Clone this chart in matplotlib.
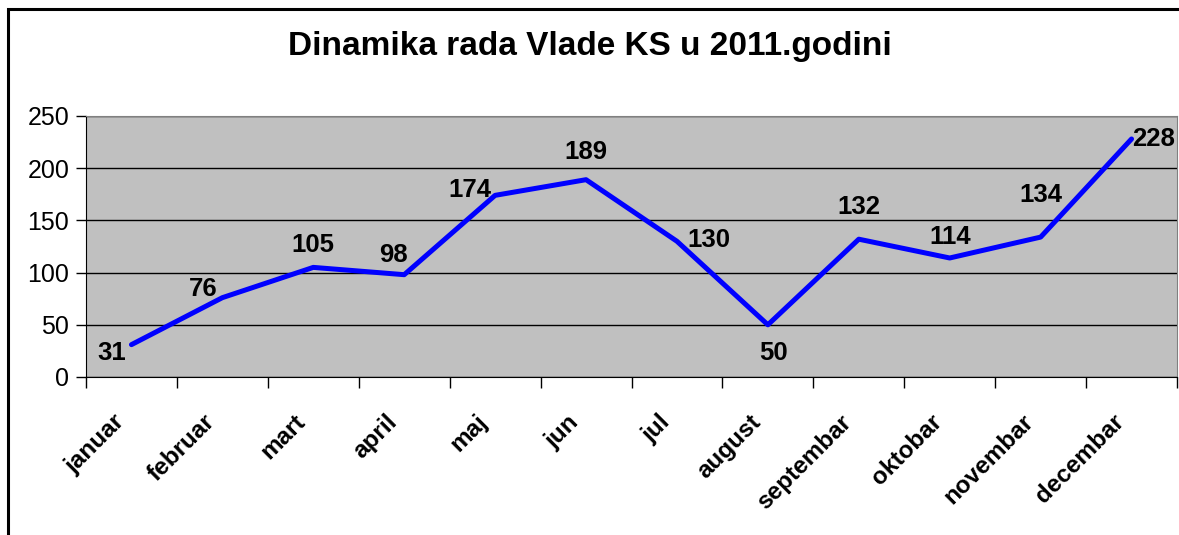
import matplotlib
matplotlib.use("Agg")
from matplotlib import pyplot as plt
from matplotlib.patches import Rectangle
from matplotlib.transforms import ScaledTranslation

plt.rcParams['font.family'] = ['Liberation Sans', 'DejaVu Sans']

months = ["januar", "februar", "mart", "april", "maj", "jun", "jul",
          "august", "septembar", "oktobar", "novembar", "decembar"]
values = [31, 76, 105, 98, 174, 189, 130, 50, 132, 114, 134, 228]
y_ticks = [0, 50, 100, 150, 200, 250]

# label offsets in points (layout only)
label_offsets = [(-14, -6), (-14, 6), (0, 16), (-8, 14), (-18, 4), (0, 20),
                 (23, 1), (4, -20), (0, 23), (0, 15), (0, 30), (16, 0)]

fig = plt.figure(figsize=(11.79, 5.35), dpi=100)
ax = fig.add_axes([86 / 1179, 1 - 377 / 535, 1091 / 1179, 261 / 535])
ax.set_facecolor("#C0C0C0")

x = list(range(len(months)))
ax.plot(x, values, color="#0000FF", linewidth=3.6, solid_capstyle="round", zorder=3)

for xi, v, off in zip(x, values, label_offsets):
    ax.annotate(str(v), (xi, v), xytext=off, textcoords="offset points",
                ha="center", va="center", fontsize=18.5, fontweight="bold", zorder=4)

ax.set_xlim(-0.5, len(months) - 0.5)
ax.set_ylim(0, 250)
ax.set_yticks(y_ticks)
ax.yaxis.grid(True, color="black", linewidth=1)
ax.set_axisbelow(True)
ax.tick_params(axis="y", labelsize=18, length=7, width=1, pad=5)

ax.set_xticks([i - 0.5 for i in range(len(months) + 1)], minor=False)
ax.set_xticklabels([])
ax.set_xticks(x, minor=True)
ax.set_xticklabels(months, minor=True, rotation=45, ha="right", va="center",
                   rotation_mode="anchor", fontsize=17.5, fontweight="bold")
ax.tick_params(axis="x", which="major", length=8, width=1)
ax.tick_params(axis="x", which="minor", length=0, pad=30)
shift = ScaledTranslation(-11 / 100, 0, fig.dpi_scale_trans)
for lab in ax.get_xticklabels(minor=True):
    lab.set_transform(lab.get_transform() + shift)

for side in ["top", "right"]:
    ax.spines[side].set_color("#808080")
ax.spines["left"].set_color("black")
ax.spines["bottom"].set_color("black")

fig.suptitle("Dinamika rada Vlade KS u 2011.godini", x=0.5, y=1 - 47 / 535,
             va="center", fontsize=24, fontweight="bold")

frame = Rectangle((8 / 1179, -0.1), 1.2, 1 - 9 / 535 + 0.1, transform=fig.transFigure,
                  fill=False, edgecolor="black", linewidth=2.2, clip_on=False)
fig.patches.append(frame)

fig.savefig("out.png", dpi=100)
